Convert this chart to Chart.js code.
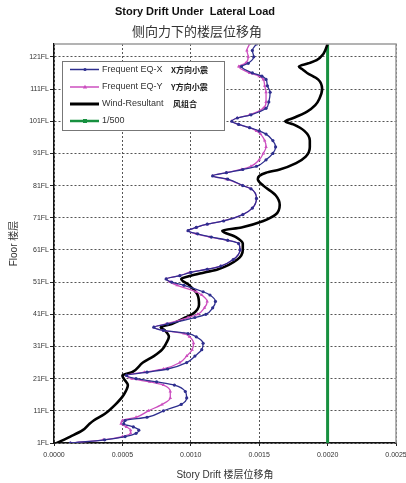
<!DOCTYPE html>
<html>
<head>
<meta charset="utf-8">
<script src="https://cdn.jsdelivr.net/npm/chart.js@4"></script>
<style>
  body { margin: 0; background: #fff; }
  canvas { display: block; }
</style>
</head>
<body>
<canvas id="driftChart" width="406" height="483"></canvas>
<script>
// floors sampled for the two earthquake curves
const eqFloors = [1, 2, 3, 4, 5, 6, 7, 8, 9, 11, 13, 15, 17, 19, 20, 21, 22, 23, 24, 26, 28, 30, 32, 34, 35, 36, 37, 38, 40, 41, 43, 45, 47, 48, 50, 51, 52, 53, 54, 55, 56, 58, 61, 63, 64, 65, 66, 67, 68, 69, 70, 72, 74, 77, 80, 81, 83, 84, 85, 86, 87, 89, 91, 93, 95, 97, 98, 99, 100, 101, 102, 103, 105, 107, 110, 112, 114, 115, 116, 118, 119, 121, 123, 125]
const eqX = [0.00012, 0.00037, 0.00052, 0.00060, 0.00062, 0.00058, 0.00051, 0.00052, 0.00068, 0.00080, 0.00093, 0.00097, 0.00096, 0.00088, 0.00075, 0.00060, 0.00053, 0.00068, 0.00083, 0.00097, 0.00103, 0.00108, 0.00109, 0.00104, 0.00098, 0.00080, 0.00073, 0.00083, 0.00103, 0.00111, 0.00116, 0.00118, 0.00114, 0.00109, 0.00095, 0.00086, 0.00082, 0.00092, 0.00100, 0.00112, 0.00122, 0.00131, 0.00136, 0.00135, 0.00127, 0.00115, 0.00105, 0.00098, 0.00104, 0.00112, 0.00124, 0.00138, 0.00145, 0.00148, 0.00144, 0.00138, 0.00127, 0.00116, 0.00126, 0.00138, 0.00148, 0.00155, 0.00160, 0.00162, 0.00160, 0.00155, 0.00150, 0.00143, 0.00135, 0.00130, 0.00134, 0.00144, 0.00155, 0.00157, 0.00158, 0.00156, 0.00155, 0.00152, 0.00145, 0.00137, 0.00142, 0.00146, 0.00145, 0.00148]
const eqY = [0.00012, 0.00036, 0.00050, 0.00056, 0.00056, 0.00053, 0.00049, 0.00050, 0.00060, 0.00069, 0.00079, 0.00085, 0.00085, 0.00080, 0.00070, 0.00057, 0.00053, 0.00066, 0.00080, 0.00092, 0.00097, 0.00101, 0.00102, 0.00099, 0.00095, 0.00080, 0.00073, 0.00082, 0.00098, 0.00105, 0.00110, 0.00112, 0.00108, 0.00104, 0.00090, 0.00085, 0.00082, 0.00092, 0.00099, 0.00112, 0.00122, 0.00131, 0.00136, 0.00135, 0.00127, 0.00114, 0.00104, 0.00098, 0.00104, 0.00112, 0.00124, 0.00138, 0.00145, 0.00148, 0.00144, 0.00138, 0.00126, 0.00116, 0.00126, 0.00137, 0.00144, 0.00150, 0.00153, 0.00155, 0.00154, 0.00151, 0.00148, 0.00143, 0.00135, 0.00130, 0.00134, 0.00143, 0.00153, 0.00155, 0.00155, 0.00154, 0.00153, 0.00150, 0.00143, 0.00135, 0.00140, 0.00142, 0.00141, 0.00143]

// wind resultant curve
const windFloors = [1, 3, 5, 7, 8, 10, 13, 16, 19, 21, 22, 23, 26, 28, 30, 32, 34, 36, 37, 38, 40, 41, 44, 47, 50, 52, 53, 54, 55, 58, 61, 63, 65, 67, 68, 70, 72, 75, 78, 81, 83, 84, 85, 86, 88, 90, 93, 95, 98, 100, 101, 102, 104, 106, 108, 111, 114, 116, 117, 118, 119, 120, 122, 125]
const windDrift = [0.00002, 0.00012, 0.00021, 0.00026, 0.00029, 0.00037, 0.00045, 0.00051, 0.00054, 0.00051, 0.00050, 0.00057, 0.00065, 0.00073, 0.00079, 0.00082, 0.00084, 0.00081, 0.00078, 0.00086, 0.00096, 0.00101, 0.00106, 0.00105, 0.00099, 0.00093, 0.00100, 0.00110, 0.00120, 0.00134, 0.00138, 0.00138, 0.00133, 0.00123, 0.00137, 0.00153, 0.00162, 0.00165, 0.00162, 0.00153, 0.00149, 0.00150, 0.00155, 0.00165, 0.00177, 0.00184, 0.00187, 0.00187, 0.00183, 0.00175, 0.00169, 0.00175, 0.00185, 0.00191, 0.00194, 0.00196, 0.00193, 0.00185, 0.00182, 0.00179, 0.00186, 0.00192, 0.00197, 0.00200]

// 1/500 limit
const limitFloors = [1, 125]
const limitDrift = [0.002, 0.002]

const floorTicks = [1, 11, 21, 31, 41, 51, 61, 71, 81, 91, 101, 111, 121]
const floorLabels = ['1FL', '11FL', '21FL', '31FL', '41FL', '51FL', '61FL', '71FL', '81FL', '91FL', '101FL', '111FL', '121FL']
const driftLabels = ['0.0000', '0.0005', '0.0010', '0.0015', '0.0020', '0.0025']

const seriesNames = ['Frequent EQ-X', 'Frequent EQ-Y', 'Wind-Resultant', '1/500']
const seriesNamesCn = ['X方向小震', 'Y方向小震', '风组合', '']

const navy = '#2e2f8f'
const pink = '#cc4fbf'
const green = '#17903f'

const LATIN = '"Liberation Sans", Arial, sans-serif'
const CJK = '"Noto Sans CJK SC", sans-serif'

function toPoints(floors, values) {
  return floors.map((f, i) => ({ x: values[i], y: f }))
}

// titles, frame and the boxed legend
const decorations = {
  id: 'decorations',
  afterDraw(chart) {
    const ctx = chart.ctx
    const area = chart.chartArea
    ctx.save()

    // grey frame on top/right
    ctx.strokeStyle = '#9a9a9a'
    ctx.lineWidth = 1.5
    ctx.beginPath()
    ctx.moveTo(area.left, area.top)
    ctx.lineTo(area.right, area.top)
    ctx.lineTo(area.right, area.bottom)
    ctx.stroke()

    // titles
    ctx.textAlign = 'center'
    ctx.textBaseline = 'middle'
    ctx.fillStyle = '#111'
    ctx.font = 'bold 11px ' + LATIN
    ctx.fillText('Story Drift Under  Lateral Load', 195, 12)
    ctx.fillStyle = '#333'
    ctx.font = '13px ' + CJK
    ctx.fillText('侧向力下的楼层位移角', 197, 31)

    // legend
    const lx = 62, ly = 61, lw = 162, lh = 69
    ctx.fillStyle = '#fff'
    ctx.fillRect(lx, ly, lw, lh)
    ctx.strokeStyle = '#777'
    ctx.lineWidth = 1
    ctx.strokeRect(lx + 0.5, ly + 0.5, lw, lh)

    const rows = [69.5, 87, 104, 121]
    const colors = [navy, pink, '#000', green]
    const widths = [1.5, 1.5, 3, 2.5]
    rows.forEach((y, i) => {
      ctx.strokeStyle = colors[i]
      ctx.lineWidth = widths[i]
      ctx.beginPath()
      ctx.moveTo(70, y)
      ctx.lineTo(99, y)
      ctx.stroke()
      ctx.fillStyle = colors[i]
      if (i === 0) {
        ctx.beginPath(); ctx.arc(85, y, 1.6, 0, Math.PI * 2); ctx.fill()
      } else if (i === 1) {
        ctx.beginPath(); ctx.moveTo(85, y - 2.2); ctx.lineTo(87.2, y + 1.6); ctx.lineTo(82.8, y + 1.6); ctx.closePath(); ctx.fill()
      } else if (i === 3) {
        ctx.fillRect(83, y - 2, 4, 4)
      }
      ctx.textAlign = 'left'
      ctx.fillStyle = '#333'
      ctx.font = '9px ' + LATIN
      ctx.fillText(seriesNames[i], 102, y)
      if (seriesNamesCn[i]) {
        ctx.font = 'bold 8px ' + CJK
        ctx.fillStyle = '#222'
        ctx.fillText(seriesNamesCn[i], i === 2 ? 173 : 171, y)
      }
    })
    ctx.restore()
  }
}

new Chart(document.getElementById('driftChart'), {
  type: 'line',
  data: {
    datasets: [
      {
        label: seriesNames[0],
        data: toPoints(eqFloors, eqX),
        borderColor: navy,
        backgroundColor: navy,
        borderWidth: 1.3,
        pointStyle: 'circle',
        pointRadius: 1.6,
        pointBorderWidth: 0,
        cubicInterpolationMode: 'monotone'
      },
      {
        label: seriesNames[1],
        data: toPoints(eqFloors, eqY),
        borderColor: pink,
        backgroundColor: pink,
        borderWidth: 1.3,
        pointStyle: 'triangle',
        pointRadius: 2,
        pointBorderWidth: 0,
        cubicInterpolationMode: 'monotone'
      },
      {
        label: seriesNames[2],
        data: toPoints(windFloors, windDrift),
        borderColor: '#000',
        borderWidth: 2.6,
        pointRadius: 0,
        cubicInterpolationMode: 'monotone'
      },
      {
        label: seriesNames[3],
        data: toPoints(limitFloors, limitDrift),
        borderColor: green,
        borderWidth: 3,
        pointRadius: 0
      }
    ]
  },
  options: {
    responsive: false,
    animation: false,
    indexAxis: 'y',
    layout: { padding: { top: 44, right: 10, left: 0, bottom: 0 } },
    plugins: {
      legend: { display: false },
      title: { display: false },
      tooltip: { enabled: false }
    },
    scales: {
      x: {
        type: 'linear',
        min: 0,
        max: 0.0025,
        afterBuildTicks: scale => {
          scale.ticks = driftLabels.map((t, i) => ({ value: i * 0.0005 }))
        },
        ticks: {
          callback: (v, i) => driftLabels[i],
          font: { size: 7, family: LATIN },
          color: '#333',
          padding: 5,
          maxRotation: 0
        },
        grid: {
          color: '#555',
          lineWidth: 1,
          tickLength: 3,
          tickColor: '#222'
        },
        border: { display: true, color: '#111', width: 1.5, dash: [2, 2] },
        title: {
          display: true,
          text: 'Story Drift 楼层位移角',
          font: { size: 10, family: LATIN + ', ' + CJK },
          color: '#333',
          padding: { top: 0, bottom: 2 }
        },
        afterFit: scale => {
          scale.height = 40
          scale.paddingLeft = 0
          scale.paddingRight = 0
        }
      },
      y: {
        type: 'linear',
        min: 1,
        max: 125,
        afterBuildTicks: scale => {
          scale.ticks = floorTicks.map(v => ({ value: v }))
        },
        ticks: {
          callback: (v, i) => floorLabels[i],
          font: { size: 7, family: LATIN },
          color: '#333',
          padding: 1
        },
        grid: {
          color: '#555',
          lineWidth: 1,
          tickLength: 4,
          tickColor: '#222'
        },
        border: { display: true, color: '#111', width: 1.5, dash: [2, 2] },
        title: {
          display: true,
          text: 'Floor 楼层',
          font: { size: 10, family: LATIN + ', ' + CJK },
          color: '#333',
          padding: { top: 8, bottom: 0 }
        },
        afterFit: scale => {
          scale.width = 54
          scale.paddingTop = 0
          scale.paddingBottom = 0
        }
      }
    }
  },
  plugins: [decorations]
})
</script>
</body>
</html>
